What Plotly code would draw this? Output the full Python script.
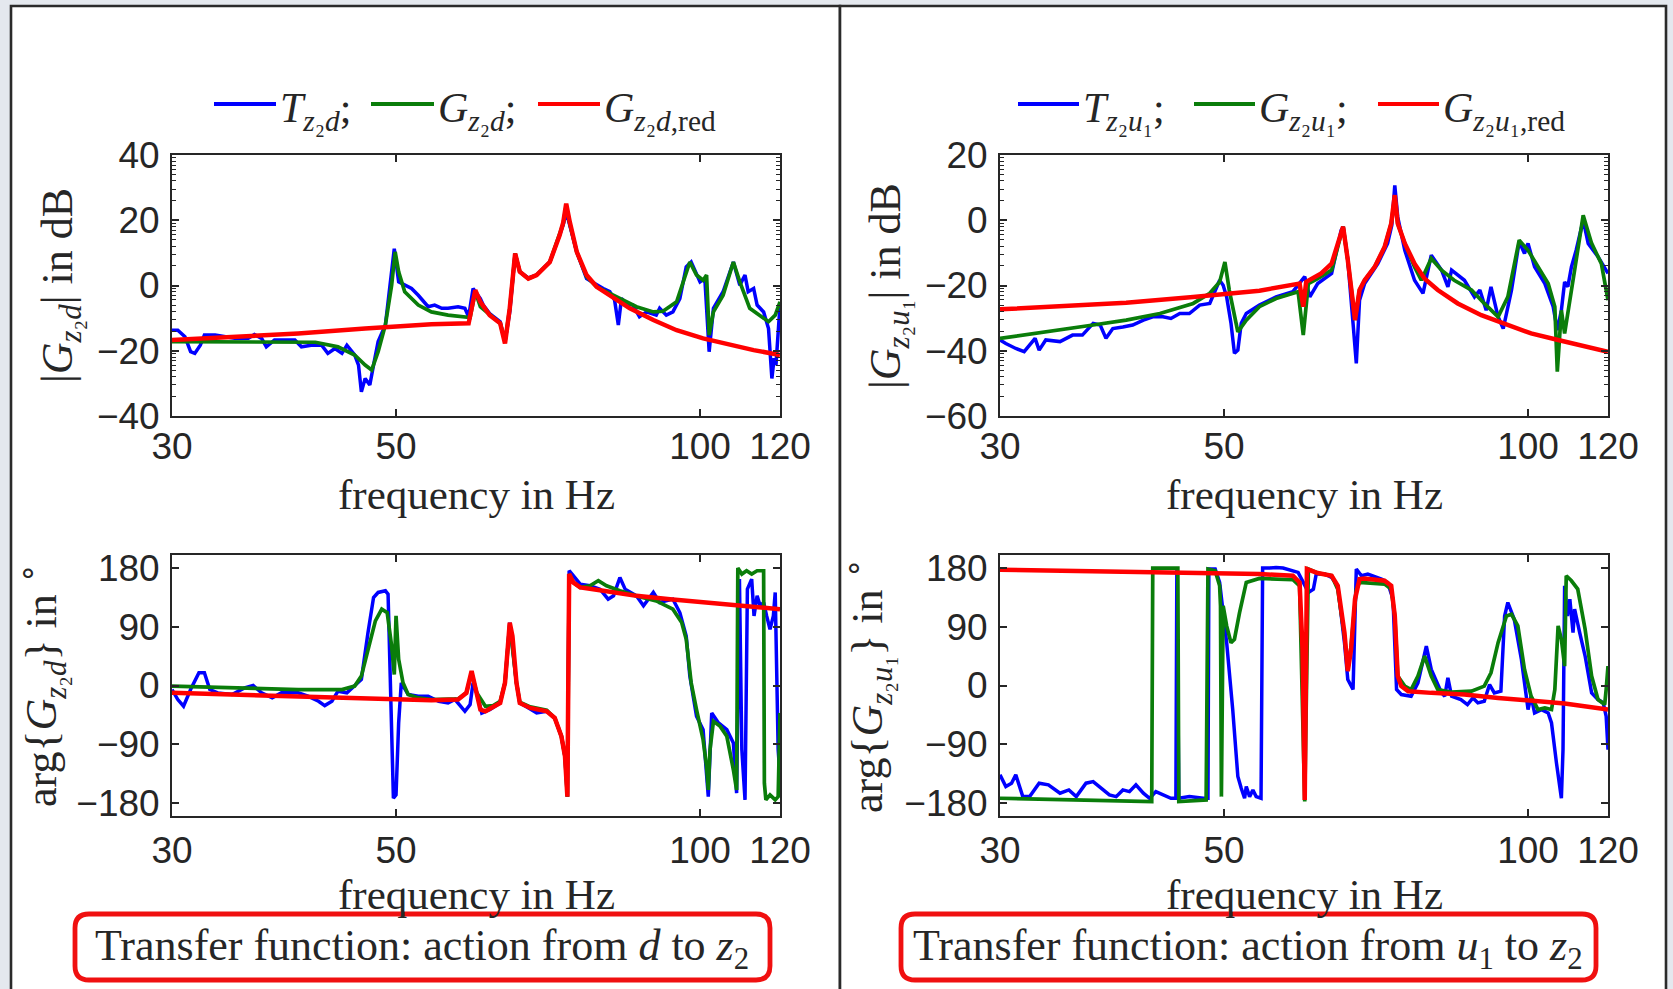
import math
import plotly.graph_objects as go

W, H = 1673, 989

# ---------------------------------------------------------------
# Frequency responses, stored as (frequency in Hz, value) pairs.
# Magnitudes in dB, phases in degrees.
# ---------------------------------------------------------------

# d -> z2 : magnitude
mag_d_T = [(30.0,-13.7),(30.4,-13.7),(30.9,-15.7),(31.3,-20.3),(31.6,-20.8),(32.0,-18.3),(32.3,-15.2),(33.1,-15.2),
           (33.9,-15.7),(34.6,-16.2),(35.7,-16.2),(36.2,-15.0),(36.8,-16.2),(37.2,-18.8),(37.9,-16.7),(38.8,-16.7),
           (39.7,-16.7),(40.3,-18.8),(41.2,-18.3),(42.2,-18.3),(42.8,-20.8),(43.5,-19.3),(44.2,-20.8),(44.7,-18.3),
           (45.5,-21.3),(45.9,-24.4),(46.2,-32.6),(46.6,-28.5),(47.1,-30.5),(47.5,-24.4),(48.0,-17.2),(48.8,-12.1),
           (49.3,0.1),(49.8,11.3),(50.3,1.1),(51.0,0.1),(51.8,-0.9),(52.6,-3.0),(53.8,-6.5),(54.6,-6.0),
           (55.5,-7.0),(56.3,-7.0),(57.6,-6.5),(58.5,-7.0),(59.0,-9.6),(59.6,-0.9),(60.6,-4.0),(61.0,-6.0),
           (61.9,-8.6),(63.4,-11.1),(64.1,-17.2),(64.8,-8.1),(65.6,9.8),(66.3,4.2),(67.6,2.3),(68.9,3.2),
           (71.0,7.2),(72.6,15.4),(73.2,18.6),(73.7,22.6),(74.3,18.5),(75.5,10.3),(77.2,2.1),(79.0,0.1),(80.2,-0.9),
           (81.4,-1.9),(82.3,-4.5),(83.0,-12.1),(83.6,-4.0),(84.5,-5.5),(85.8,-6.0),(87.1,-9.6),(88.5,-8.1),
           (90.5,-9.1),(91.2,-7.0),(92.6,-9.1),(94.0,-8.1),(95.5,-4.0),(96.9,5.7),(98.0,7.2),(100.0,1.1),
           (101.1,2.1),(102.1,-20.3),(103.1,-7.0),(105.4,-1.9),(107.9,7.2),(109.5,0.1),(110.8,3.2),(111.6,-1.9),
           (113.0,-0.9),(113.9,-6.0),(115.6,-8.1),(116.9,-13.2),(117.8,-28.5),(118.4,-22.3),(118.9,-24.4),
           (119.5,-12.1),(120.0,-6.0)]

mag_d_G = [(30.0,-17.2),(37.1,-17.2),(41.6,-17.4),(43.8,-18.8),(45.5,-21.3),(46.6,-24.4),(47.3,-25.9),(48.0,-20.3),
           (48.8,-12.1),(49.5,0.1),(49.9,10.3),(50.3,4.2),(51.0,-1.9),(52.6,-6.0),(54.2,-8.1),(56.3,-9.1),
           (58.5,-9.6),(59.2,-9.8),(59.9,-1.9),(60.6,-6.5),(61.9,-8.9),(63.4,-11.6),(64.1,-17.2),(64.8,-7.0),
           (65.6,9.8),(66.3,4.2),(67.6,2.1),(68.9,3.2),(71.0,7.2),(72.6,15.4),(73.2,19.0),(73.7,24.6),(74.0,21.8),
           (74.3,19.0),(75.5,10.3),(77.2,2.7),(79.0,-0.4),(80.2,-1.4),(83.3,-4.0),(86.5,-6.5),(89.9,-8.1),(91.9,-7.9),
           (94.8,-5.0),(96.6,2.1),(97.7,7.2),(99.2,3.2),(100.7,1.6),(101.5,3.2),(102.1,-15.2),(103.1,-8.1),
           (105.4,-3.0),(107.9,7.2),(109.5,1.1),(112.0,-7.0),(114.7,-9.1),(116.9,-11.1),(118.7,-9.1),(120.0,-5.0)]

mag_d_Gred = [(30.0,-16.7),(34.4,-15.7),(40.0,-14.7),(46.6,-13.2),(54.2,-11.9),(59.0,-11.6),(59.9,-1.4),(60.6,-5.0),
              (61.9,-9.1),(63.4,-11.6),(64.1,-17.8),(64.8,-7.0),(65.6,9.8),(66.3,4.2),(67.6,2.1),(68.9,3.2),
              (71.0,7.2),(72.6,15.4),(73.2,19.3),(73.7,25.1),(74.0,22.0),(74.3,19.5),(75.5,10.3),(77.2,3.2),
              (79.0,-0.4),(81.4,-3.0),(85.2,-7.0),(89.9,-10.6),(94.8,-13.7),(100.7,-16.2),(107.1,-18.3),
              (113.0,-19.8),(120.0,-21.3)]

# d -> z2 : phase
ph_d_T = [(30.0,-6.2),(30.4,-21.5),(30.8,-31.8),(31.3,-6.2),(31.9,19.5),(32.3,19.5),(32.7,-6.2),(33.3,-11.3),
          (34.4,-13.8),(35.4,-3.6),(36.1,0.0),(36.8,-11.3),(37.7,-19.0),(38.5,-11.3),(40.0,-11.3),(40.9,-16.4),
          (41.9,-24.1),(42.5,-30.8),(43.2,-24.1),(43.8,-8.7),(44.7,-11.3),(45.5,-1.0),(46.2,9.2),(46.9,81.0),
          (47.5,134.9),(48.0,142.6),(48.8,145.1),(49.1,140.0),(49.4,4.1),(49.7,-172.8),(50.0,-167.7),(50.3,-57.4),
          (50.6,4.1),(51.4,-13.8),(52.6,-16.4),(53.8,-16.4),(55.1,-24.1),(56.3,-26.7),(57.2,-21.5),(58.5,-39.5),
          (59.2,-29.2),(59.6,4.1),(60.1,-11.3),(60.8,-42.1),(61.9,-36.9),(63.4,-26.7),(64.1,4.1),(64.8,96.4),
          (65.8,4.1),(66.3,-26.7),(67.9,-35.9),(68.9,-42.1),(70.5,-39.5),(71.8,-49.7),(72.9,-77.9),(73.5,-108.7),
          (73.9,-170.3),(74.2,175.9),(76.1,155.4),(77.8,152.8),(79.6,147.7),(81.1,132.3),(82.1,137.4),(83.3,165.6),
          (84.3,147.7),(86.5,137.4),(87.9,122.1),(89.9,142.6),(91.2,127.2),(94.0,132.3),(95.5,111.8),(96.9,75.9),
          (97.7,14.4),(99.2,-47.2),(100.7,-67.7),(101.9,-170.3),(102.7,-42.1),(104.3,-57.4),(106.3,-67.7),
          (107.9,-88.2),(108.7,-165.1),(109.4,163.1),(110.0,-98.5),(110.8,-175.4),(111.4,147.7),(112.5,163.1),
          (113.1,106.7),(113.9,137.4),(114.7,122.1),(115.6,127.2),(116.4,106.7),(117.3,86.2),(118.2,106.7),
          (118.7,142.6),(119.5,-98.5),(120.0,-139.5)]

ph_d_G = [(30.0,-1.0),(34.4,-3.6),(40.0,-6.2),(44.2,-6.2),(45.5,-1.0),(46.2,14.4),(46.9,55.4),(47.7,99.0),
          (48.4,116.9),(49.0,111.8),(49.5,60.5),(49.8,16.9),(50.0,106.7),(50.3,40.0),(50.8,4.1),(51.4,-13.8),
          (52.6,-19.0),(54.2,-21.5),(57.6,-20.5),(58.7,-11.3),(59.4,19.5),(60.1,-11.3),(61.3,-31.8),(62.4,-30.8),
          (63.4,-24.1),(64.1,4.1),(64.8,93.8),(65.8,4.1),(66.3,-25.6),(67.9,-32.8),(70.5,-37.9),(71.8,-49.7),
          (72.9,-77.9),(73.5,-108.7),(73.9,-170.3),(74.2,170.8),(74.9,158.0),(76.1,150.3),(77.8,152.8),(79.3,160.5),
          (80.8,152.8),(83.3,145.1),(86.5,137.4),(90.5,129.7),(94.0,116.9),(95.9,96.4),(96.9,70.8),(98.0,4.1),
          (99.2,-36.9),(100.7,-83.1),(101.5,-124.1),(101.9,-160.0),(102.3,-98.5),(103.1,-54.9),(104.7,-62.6),
          (106.3,-77.9),(107.9,-129.2),(108.7,-160.0),(109.0,180.0),(110.0,170.8),(111.2,175.9),(112.5,170.8),
          (113.9,175.9),(115.6,175.9),(115.8,-149.7),(116.2,-175.4),(117.3,-167.7),(118.7,-175.4),(119.5,-170.3),
          (120.0,-42.0)]

ph_d_Gred = [(30.0,-11.3),(40.0,-16.4),(54.2,-22.6),(57.6,-21.5),(58.7,-11.3),(59.4,22.1),(60.1,-11.3),(60.6,-36.9),
             (61.3,-39.5),(62.4,-31.8),(63.4,-26.7),(64.1,4.1),(64.6,81.0),(64.8,96.4),(65.2,75.9),(65.8,4.1),
             (66.3,-26.7),(67.9,-34.4),(70.5,-39.5),(71.8,-49.7),(72.9,-77.9),(73.5,-108.7),(73.9,-170.3),
             (74.2,170.8),(74.9,158.0),(76.1,150.3),(80.2,145.1),(86.5,137.4),(93.4,132.3),(100.7,127.2),
             (108.7,123.1),(120.0,116.9)]

# u1 -> z2 : magnitude
mag_u_T = [(30.0,-36.7),(30.4,-37.8),(31.1,-39.3),(31.7,-40.3),(32.5,-36.2),(32.8,-39.8),(33.3,-36.7),(34.4,-37.2),
           (35.4,-35.2),(36.2,-35.2),(37.1,-31.6),(37.7,-32.1),(38.2,-36.2),(38.8,-33.2),(39.7,-32.7),(40.6,-32.1),
           (41.6,-30.6),(42.5,-29.6),(43.5,-29.6),(44.3,-30.1),(45.2,-28.6),(46.2,-28.6),(47.3,-26.0),(48.4,-25.5),
           (49.5,-18.4),(49.9,-19.9),(50.3,-23.5),(50.8,-31.6),(51.2,-40.8),(51.6,-39.8),(52.0,-31.6),(52.6,-28.6),
           (54.2,-26.0),(56.3,-23.5),(58.5,-21.9),(59.6,-18.9),(60.1,-17.3),(60.8,-23.5),(61.9,-19.4),(63.9,-16.3),
           (65.3,-3.1),(65.6,-2.0),(66.3,-12.2),(67.1,-31.6),(67.6,-43.9),(68.1,-24.5),(68.9,-19.4),(71.0,-13.3),
           (72.6,-7.1),(73.3,-1.5),(73.8,10.7),(74.3,1.0),(75.5,-9.2),(77.2,-18.4),(78.7,-22.4),(80.2,-10.7),(82.1,-15.3),
           (83.3,-20.4),(84.0,-15.3),(86.5,-18.4),(88.5,-23.5),(89.6,-21.4),(90.9,-27.6),(91.9,-20.4),(93.4,-29.6),
           (94.5,-33.2),(96.3,-21.4),(98.0,-6.6),(99.2,-10.2),(100.0,-7.1),(101.5,-14.3),(103.9,-19.4),(105.9,-26.5),
           (106.9,-33.7),(107.9,-27.6),(108.7,-18.9),(109.5,-20.4),(110.4,-14.3),(111.6,-9.2),(113.4,0.0),
           (114.7,-7.1),(117.3,-11.2),(120.0,-16.3)]

mag_u_G = [(30.0,-36.2),(34.4,-33.7),(37.1,-32.1),(40.0,-30.6),(43.2,-28.6),(46.6,-25.5),(48.4,-22.4),(49.5,-18.9),
           (50.1,-12.8),(50.6,-21.4),(51.6,-34.2),(52.6,-30.6),(54.2,-26.5),(56.3,-24.0),(58.5,-22.4),(59.2,-21.9),
           (59.9,-35.2),(60.6,-19.4),(61.9,-17.9),(63.9,-15.3),(64.8,-8.2),(65.6,-2.0),(66.3,-12.2),(67.4,-30.6),
           (68.1,-21.4),(68.9,-18.4),(70.5,-14.3),(72.1,-8.2),(73.2,-1.0),(73.8,7.1),(74.3,-1.0),(75.5,-7.1),
           (77.2,-14.3),(78.4,-18.4),(80.2,-11.7),(82.1,-15.3),(84.5,-18.4),(87.9,-21.4),(90.5,-25.5),(93.4,-29.6),
           (95.5,-23.5),(98.0,-6.1),(100.0,-9.2),(102.3,-14.3),(104.7,-19.4),(106.3,-26.5),(106.9,-46.4),
           (107.9,-27.6),(108.7,-34.7),(111.2,-15.3),(113.4,1.5),(115.6,-7.1),(118.2,-13.3),(120.0,-24.5)]

mag_u_Gred = [(30.0,-27.3),(34.4,-26.5),(40.0,-25.3),(46.6,-23.5),(54.2,-21.6),(59.4,-19.4),(59.9,-26.5),(60.3,-18.9),
              (61.0,-17.9),(62.4,-16.3),(63.9,-13.3),(64.8,-7.1),(65.6,-2.0),(66.3,-12.2),(67.4,-30.6),(68.1,-21.4),
              (68.9,-18.4),(70.5,-14.3),(72.1,-8.2),(73.2,-1.0),(73.8,7.7),(74.3,-1.0),(75.5,-7.1),(77.2,-13.3),
              (79.0,-17.9),(81.4,-21.4),(85.2,-25.5),(89.9,-29.1),(94.8,-31.6),(100.7,-34.7),(107.1,-36.7),
              (113.0,-38.3),(120.0,-40.3)]

# u1 -> z2 : phase
ph_u_T = [(30.0,-136.9),(30.4,-154.9),(30.8,-149.7),(31.1,-136.9),(31.6,-170.3),(32.1,-170.3),(32.8,-149.7),
          (33.5,-152.3),(34.4,-165.1),(35.1,-160.0),(35.7,-170.3),(36.5,-149.7),(37.1,-147.2),(37.9,-160.0),
          (38.5,-167.7),(39.1,-170.3),(39.7,-160.0),(40.3,-162.6),(40.9,-152.3),(41.6,-165.1),(42.2,-172.8),
          (42.8,-162.6),(43.5,-167.7),(44.3,-172.8),(44.8,-172.8),(44.9,178.5),(45.1,-172.8),(46.2,-170.3),
          (47.7,-172.8),(48.2,-172.8),(48.3,178.5),(49.0,178.5),(49.5,158.0),(50.3,65.6),(51.0,-36.9),(51.6,-139.5),
          (52.0,-157.4),(52.4,-172.8),(52.6,-154.9),(53.0,-170.3),(53.4,-160.0),(53.8,-170.3),(54.4,-172.8),
          (54.6,180.0),(55.5,180.0),(56.3,181.0),(57.2,180.0),(58.5,175.9),(59.2,173.3),(59.9,158.0),(60.6,142.6),
          (61.3,147.7),(61.7,170.8),(62.9,170.8),(63.9,165.6),(64.8,152.8),(65.8,65.6),(66.3,9.2),(67.1,-6.2),
          (67.6,178.5),(68.4,168.2),(69.4,170.8),(71.6,163.1),(72.6,158.0),(73.5,132.3),(74.1,-6.2),(74.9,-13.8),
          (76.6,-16.4),(77.8,4.1),(79.3,60.5),(80.2,24.6),(82.1,-11.3),(82.7,-16.4),(83.3,11.8),(84.0,-16.4),
          (85.8,-21.5),(87.1,-29.2),(88.2,-19.0),(89.2,-26.7),(90.5,-24.1),(91.6,1.5),(92.6,-11.3),(94.0,-8.7),
          (94.8,106.7),(95.5,127.2),(96.9,101.5),(98.5,40.0),(100.0,-36.9),(100.7,-16.4),(101.5,-42.1),
          (103.1,-36.9),(104.7,-42.1),(105.5,-57.4),(106.7,-119.0),(107.5,-160.0),(107.9,-172.8),(108.3,-98.5),
          (108.7,152.8),(109.4,106.7),(110.0,132.3),(110.8,81.0),(111.2,116.9),(112.5,81.0),(113.9,45.1),
          (115.6,-11.3),(117.3,-21.5),(118.7,-26.7),(119.5,-47.2),(120.0,-98.5)]

ph_u_G = [(30.0,-172.8),(34.4,-174.4),(42.4,-177.9),(42.5,180.0),(45.0,180.0),(45.1,-177.9),(48.0,-175.4),
          (48.2,178.5),(49.0,175.9),(49.5,152.8),(49.6,122.1),(49.7,-170.3),(49.9,122.1),(50.3,91.3),(50.8,65.6),
          (51.2,70.8),(51.8,111.8),(52.6,158.0),(54.2,164.1),(58.5,162.1),(59.4,152.8),(60.1,-177.9),(60.6,178.5),
          (61.9,172.3),(63.9,168.2),(64.8,147.7),(65.8,75.9),(66.3,24.6),(66.8,60.5),(67.6,147.7),(68.1,158.0),
          (72.1,155.4),(73.2,147.7),(73.8,106.7),(74.3,14.4),(75.5,-1.0),(76.6,-6.2),(77.8,14.4),(79.0,45.1),
          (80.2,14.4),(81.4,-6.2),(84.0,-10.3),(87.9,-8.7),(90.5,-1.0),(91.9,19.5),(93.4,65.6),(95.2,106.7),
          (96.3,109.2),(97.7,91.3),(99.2,24.6),(100.7,-16.4),(102.3,-36.9),(103.9,-34.4),(105.5,-36.9),(106.3,-6.2),
          (107.1,91.3),(107.9,70.8),(108.7,29.7),(109.1,168.2),(110.4,160.5),(112.0,147.7),(113.9,86.2),
          (115.6,14.4),(117.3,-21.5),(119.1,-29.2),(119.5,-6.2),(120.0,29.7)]

ph_u_Gred = [(30.0,177.4),(40.0,174.4),(46.6,172.3),(54.2,170.8),(58.5,168.2),(59.4,158.0),(59.8,55.4),(60.1,-175.4),
             (60.4,178.5),(61.9,172.3),(63.9,168.2),(64.8,152.8),(65.8,81.0),(66.3,22.1),(66.8,55.4),(67.4,132.3),
             (68.1,163.1),(68.9,164.1),(72.1,160.5),(73.2,152.8),(73.8,106.7),(74.3,14.4),(74.9,-1.0),(76.1,-8.7),
             (80.2,-11.3),(86.5,-13.8),(93.4,-19.0),(100.7,-24.1),(108.7,-27.7),(120.0,-36.9)]

freq_ticks = [30, 50, 100, 120]
mag_ticks_d = [-40, -20, 0, 20, 40]
mag_ticks_u = [-60, -40, -20, 0, 20]
phase_ticks = [-180, -90, 0, 90, 180]

# ---------------------------------------------------------------
BLUE, GREEN, RED = "#0000ff", "#0a7d0a", "#ff0000"
INK = "#262626"
TICK_FONT = dict(family="Liberation Sans, Arial, sans-serif", size=37, color=INK)
SERIF = "Liberation Serif, Times New Roman, serif"


def px(x):
    return x / W


def py(y):
    return 1 - y / H


def log_minor(lo, hi, step=20):
    vals = []
    a = lo
    while a < hi:
        vals += [a + step * math.log10(k) for k in range(2, 10)]
        a += step
    return vals


fig = go.Figure()

# plot rectangles in pixels: (left, right, top, bottom)
LEFT_X = (172, 780)
RIGHT_X = (1000, 1608)
TOP_Y = (155, 416)
BOT_Y = (555, 816)

panels = [
    ("x", "y", LEFT_X, TOP_Y, [mag_d_T, mag_d_G, mag_d_Gred], [-40, 40], mag_ticks_d, True),
    ("x2", "y2", LEFT_X, BOT_Y, [ph_d_T, ph_d_G, ph_d_Gred], [-200, 200], phase_ticks, False),
    ("x3", "y3", RIGHT_X, TOP_Y, [mag_u_T, mag_u_G, mag_u_Gred], [-60, 20], mag_ticks_u, True),
    ("x4", "y4", RIGHT_X, BOT_Y, [ph_u_T, ph_u_G, ph_u_Gred], [-200, 200], phase_ticks, False),
]

layout_axes = {}
for xa, ya, (xl, xr), (yt, yb), series, yrange, yticks, is_mag in panels:
    for data, color, width in zip(series, [BLUE, GREEN, RED], [3.5, 3.7, 4.5]):
        fig.add_trace(go.Scatter(
            x=[p[0] for p in data], y=[p[1] for p in data],
            mode="lines", line=dict(color=color, width=width),
            xaxis=xa, yaxis=ya, showlegend=False, hoverinfo="skip"))

    xname = "xaxis" + xa[1:]
    yname = "yaxis" + ya[1:]
    layout_axes[xname] = dict(
        type="log", range=[math.log10(30), math.log10(120)],
        domain=[px(xl), px(xr)], anchor=ya, automargin=False,
        tickmode="array", tickvals=freq_ticks, ticktext=[str(v) for v in freq_ticks],
        ticks="inside", ticklen=7, tickwidth=1.5, tickcolor=INK,
        showline=True, linecolor=INK, linewidth=1.8, mirror="ticks",
        showgrid=False, zeroline=False, tickfont=TICK_FONT,
        ticklabelstandoff=-3 if is_mag else 1)
    ycfg = dict(
        range=yrange, domain=[py(yb), py(yt)], anchor=xa, automargin=False,
        tickmode="array", tickvals=yticks,
        ticks="inside", ticklen=7, tickwidth=1.5, tickcolor=INK,
        showline=True, linecolor=INK, linewidth=1.8, mirror="ticks",
        showgrid=False, zeroline=False, tickfont=TICK_FONT, ticklabelstandoff=3)
    if is_mag:
        ycfg["minor"] = dict(tickmode="array", tickvals=log_minor(yrange[0], yrange[1]),
                             ticks="inside", ticklen=4, tickwidth=1.2, tickcolor=INK)
    layout_axes[yname] = ycfg

shapes = []
# white panels with dark frames
for x0, x1 in [(11, 840), (840, 1666)]:
    shapes.append(dict(type="rect", xref="paper", yref="paper", layer="below",
                       x0=px(x0), x1=px(x1), y0=py(1010), y1=py(6),
                       fillcolor="white", line=dict(color="#2a2a2a", width=2.6)))


def rounded_box(x0, y0, x1, y1, r):
    return ("M {a},{b} L {c},{b} Q {d},{b} {d},{e} L {d},{f} Q {d},{g} {c},{g} "
            "L {a},{g} Q {h},{g} {h},{f} L {h},{e} Q {h},{b} {a},{b} Z").format(
        a=px(x0 + r), b=py(y0), c=px(x1 - r), d=px(x1), e=py(y0 + r),
        f=py(y1 - r), g=py(y1), h=px(x0))


for x0, x1 in [(75, 770), (901, 1596)]:
    shapes.append(dict(type="path", xref="paper", yref="paper",
                       path=rounded_box(x0, 914, x1, 980, 14),
                       line=dict(color="#f01010", width=4.8), fillcolor="rgba(0,0,0,0)"))

# legend line samples
legend_rows = [
    [(214, 276, BLUE), (371, 434, GREEN), (538, 600, RED)],
    [(1018, 1079, BLUE), (1194, 1255, GREEN), (1378, 1439, RED)],
]
for row in legend_rows:
    for x0, x1, c in row:
        shapes.append(dict(type="line", xref="paper", yref="paper",
                           x0=px(x0), x1=px(x1), y0=py(104), y1=py(104),
                           line=dict(color=c, width=4)))

annotations = []


def text(x, y, s, size, angle=0, xanchor="center", family=SERIF):
    annotations.append(dict(x=px(x), y=py(y), xref="paper", yref="paper", text=s,
                            showarrow=False, textangle=angle, xanchor=xanchor, yanchor="middle",
                            font=dict(family=family, size=size, color=INK)))


# legends
leg_d = ["<i>T</i><sub><i>z</i>\u2082<i>d</i></sub>;",
         "<i>G</i><sub><i>z</i>\u2082<i>d</i></sub>;",
         "<i>G</i><sub><i>z</i>\u2082<i>d</i>,red</sub>"]
leg_u = ["<i>T</i><sub><i>z</i>\u2082<i>u</i>\u2081</sub>;",
         "<i>G</i><sub><i>z</i>\u2082<i>u</i>\u2081</sub>;",
         "<i>G</i><sub><i>z</i>\u2082<i>u</i>\u2081,red</sub>"]
for row, labels in zip(legend_rows, [leg_d, leg_u]):
    for (x0, x1, c), lab in zip(row, labels):
        text(x1 + 2, 111, lab, 42, xanchor="left")

# axis titles
for cx in [476, 1304]:
    text(cx, 494, "frequency in Hz", 43)
    text(cx, 894, "frequency in Hz", 43)
text(60, 286, "|<i>G</i><sub><i>z</i>\u2082<i>d</i></sub>| in dB", 44, angle=-90)
text(888, 286, "|<i>G</i><sub><i>z</i>\u2082<i>u</i>\u2081</sub>| in dB", 44, angle=-90)
text(42, 686, "arg{<i>G</i><sub><i>z</i>\u2082<i>d</i></sub>} in <sup>\u2218</sup>", 44, angle=-90)
text(868, 686, "arg{<i>G</i><sub><i>z</i>\u2082<i>u</i>\u2081</sub>} in <sup>\u2218</sup>", 44, angle=-90)

# captions
text(422, 948, "Transfer function: action from <i>d</i> to <i>z</i><sub>2</sub>", 44)
text(1248, 948, "Transfer function: action from <i>u</i><sub>1</sub> to <i>z</i><sub>2</sub>", 44)

fig.update_layout(
    width=W, height=H, margin=dict(l=0, r=0, t=0, b=0, pad=0), autosize=False,
    paper_bgcolor="#e4e8ee", plot_bgcolor="white",
    showlegend=False, shapes=shapes, annotations=annotations,
    **layout_axes)

fig.write_html("out.html")
